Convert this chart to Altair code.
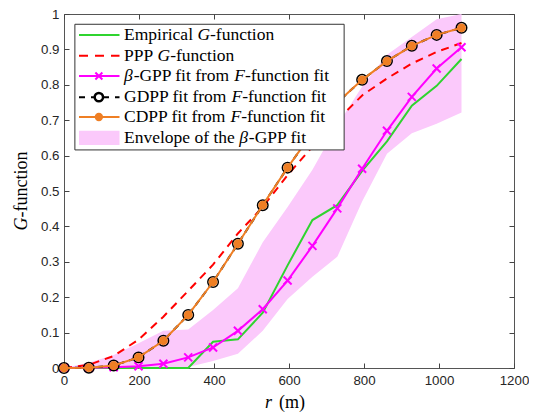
import altair as alt
import pandas as pd

# ---------------- data ----------------
r = [0, 66.25, 132.5, 198.75, 265, 331.25, 397.5, 463.75, 530, 596.25,
     662.5, 728.75, 795, 861.25, 927.5, 993.75, 1060]
g_emp = [0, 0, 0, 0, 0, 0, 0.074, 0.081, 0.156, 0.29, 0.418, 0.46, 0.557,
         0.64, 0.741, 0.797, 0.873]
g_ppp = [0, 0.009, 0.034, 0.080, 0.145, 0.218, 0.292, 0.38, 0.455, 0.545,
         0.625, 0.70, 0.77, 0.818, 0.86, 0.893, 0.918]
g_bgpp = [0, 0.0005, 0.002, 0.005, 0.012, 0.030, 0.058, 0.105, 0.166, 0.247,
          0.345, 0.451, 0.563, 0.670, 0.766, 0.846, 0.906]
g_gdpp = [0, 0.001, 0.007, 0.030, 0.077, 0.150, 0.243, 0.351, 0.460, 0.566,
          0.665, 0.750, 0.814, 0.867, 0.910, 0.941, 0.961]
g_cdpp = [0, 0.001, 0.007, 0.030, 0.077, 0.150, 0.243, 0.351, 0.460, 0.566,
          0.665, 0.750, 0.814, 0.867, 0.910, 0.941, 0.961]
env_lo = [0, 0, 0, 0, 0, 0.003, 0.02, 0.04, 0.105, 0.195, 0.258, 0.314,
          0.47, 0.605, 0.663, 0.69, 0.722]
env_hi = [0, 0.015, 0.037, 0.07, 0.105, 0.109, 0.164, 0.225, 0.355, 0.455,
          0.56, 0.685, 0.795, 0.885, 0.935, 0.985, 1.0]

x_ticks = [0, 200, 400, 600, 800, 1000, 1200]
y_ticks = [0, 0.1, 0.2, 0.3, 0.4, 0.5, 0.6, 0.7, 0.8, 0.9, 1.0]

# legend texts: (row, text, italic, offset in em)
legend_rows = [0, 0, 0, 1, 1, 1, 2, 2, 2, 2, 3, 3, 3, 4, 4, 4, 5, 5, 5]
legend_segs = ["Empirical ", "G", "-function",
               "PPP ", "G", "-function",
               "β", "-GPP fit from ", "F", "-function fit",
               "GDPP fit from ", "F", "-function fit",
               "CDPP fit from ", "F", "-function fit",
               "Envelope of the ", "β", "-GPP fit"]
legend_ital = [False, True, False,
               False, True, False,
               True, False, True, False,
               False, True, False,
               False, True, False,
               False, True, False]
legend_em = [0, 4.194, 4.916,
             0, 1.918, 2.640,
             0, 0.55, 6.30, 6.911,
             0, 6.139, 6.750,
             0, 6.084, 6.695,
             0, 6.582, 7.132]

x_title_segs = ["r", "(m)"]
y_title_segs = ["G", "-function"]

# ---------------- styles ----------------
C_GREEN = "#2fd42f"
C_RED = "#ff0000"
C_MAG = "#ff00ff"
C_BLACK = "#000000"
C_ORANGE = "#ef7f24"
C_PINK = "#fbc9fb"
SERIF = "Liberation Serif"
SANS = "Liberation Sans"
XMARK = "M-1,-1L1,1M-1,1L1,-1"
W, H = 450, 354
XMAX = 1200
PX_PER_X = W / XMAX      # pixels per r unit
PX_PER_Y = H / 1.0       # pixels per G unit
LEG_FS = 17.5
TITLE_FS = 18

xs = alt.Scale(domain=[0, XMAX], nice=False, zero=False)
ys = alt.Scale(domain=[0, 1], nice=False, zero=False)

df = pd.DataFrame({"r": r, "emp": g_emp, "ppp": g_ppp, "bgpp": g_bgpp,
                   "gdpp": g_gdpp, "cdpp": g_cdpp, "lo": env_lo, "hi": env_hi})


def X(f, axis=None):
    return alt.X(f, type="quantitative", scale=xs, axis=axis)


def Y(f, axis=None):
    return alt.Y(f, type="quantitative", scale=ys, axis=axis)


common_axis = dict(offset=-5, tickSize=5, domain=False, grid=False,
                   labelFont=SANS, labelFontSize=13.3, labelColor="#262626",
                   tickColor="#444444", tickWidth=1, labelFlush=False,
                   title=None)

ax_bottom = alt.Axis(orient="bottom", values=x_ticks, format="d",
                     labelPadding=5, **common_axis)
ax_left = alt.Axis(orient="left", values=y_ticks, format=".1~f",
                   labelPadding=5, **common_axis)
ax_top = alt.Axis(orient="top", values=x_ticks, labels=False, **common_axis)
ax_right = alt.Axis(orient="right", values=y_ticks, labels=False,
                    **common_axis)

base = alt.Chart(df)

envelope = base.mark_area(color=C_PINK, opacity=1).encode(
    x=X("r", ax_bottom), y=Y("lo", ax_left), y2="hi")
emp = base.mark_line(color=C_GREEN, strokeWidth=2).encode(
    x=X("r", ax_top), y=Y("emp", ax_right))
ppp = base.mark_line(color=C_RED, strokeWidth=2, strokeDash=[8, 6]).encode(
    x=X("r"), y=Y("ppp"))
bgpp = base.mark_line(color=C_MAG, strokeWidth=2).encode(
    x=X("r"), y=Y("bgpp"))
bgpp_pt = base.mark_point(shape=XMARK, size=64, filled=False, stroke=C_MAG,
                          strokeWidth=2, opacity=1).encode(
    x=X("r"), y=Y("bgpp"))
gdpp = base.mark_line(color=C_BLACK, strokeWidth=2, strokeDash=[6, 5]).encode(
    x=X("r"), y=Y("gdpp"))
gdpp_pt = base.mark_point(shape="circle", size=110, filled=False,
                          stroke=C_BLACK, strokeWidth=1.5, opacity=1).encode(
    x=X("r"), y=Y("gdpp"))
cdpp = base.mark_line(color=C_ORANGE, strokeWidth=2).encode(
    x=X("r"), y=Y("cdpp"))
cdpp_pt = base.mark_point(shape="circle", size=78, filled=True,
                          color=C_ORANGE, opacity=1).encode(
    x=X("r"), y=Y("cdpp"))

# ---------------- legend (placed in data units through the scales) ----------
leg_box = pd.DataFrame({"x": [29], "x2": [747], "y": [0.971], "y2": [0.616]})
row_y = [0.941, 0.882, 0.825, 0.765, 0.709, 0.650]
ls_x0, ls_x1, mk_x, tx_x = 40, 148, 93, 160

legend_box = alt.Chart(leg_box).mark_rect(
    fill="white", stroke="#333333", strokeWidth=1).encode(
    x=X("x"), x2="x2", y=Y("y"), y2="y2")


def leg_line(i, color, dash=None):
    d = pd.DataFrame({"x": [ls_x0], "x2": [ls_x1], "y": [row_y[i]]})
    kw = dict(color=color, strokeWidth=2)
    if dash:
        kw["strokeDash"] = dash
    return alt.Chart(d).mark_rule(**kw).encode(x=X("x"), x2="x2", y=Y("y"))


def leg_pt(i, **kw):
    d = pd.DataFrame({"x": [mk_x], "y": [row_y[i]]})
    return alt.Chart(d).mark_point(opacity=1, **kw).encode(x=X("x"), y=Y("y"))


leg_layers = [
    leg_line(0, C_GREEN),
    leg_line(1, C_RED, [9, 7]),
    leg_line(2, C_MAG),
    leg_pt(2, shape=XMARK, size=49, filled=False, stroke=C_MAG, strokeWidth=2),
    leg_line(3, C_BLACK, [6, 6]),
    leg_pt(3, shape="circle", size=70, filled=True, fill="white",
           stroke=C_BLACK, strokeWidth=2.5),
    leg_line(4, C_ORANGE),
    leg_pt(4, shape="circle", size=70, filled=True, color=C_ORANGE),
]
patch = pd.DataFrame({"x": [ls_x0], "x2": [ls_x1],
                      "y": [row_y[5] + 0.02], "y2": [row_y[5] - 0.02]})
leg_layers.append(alt.Chart(patch).mark_rect(fill=C_PINK).encode(
    x=X("x"), x2="x2", y=Y("y"), y2="y2"))

seg_df = pd.DataFrame({
    "x": [tx_x + em * LEG_FS / PX_PER_X for em in legend_em],
    "y": [row_y[i] for i in legend_rows],
    "t": legend_segs,
    "ital": legend_ital,
})
leg_text_up = alt.Chart(seg_df[~seg_df["ital"]]).mark_text(
    align="left", baseline="middle", font=SERIF, fontSize=LEG_FS,
    color="black").encode(x=X("x"), y=Y("y"), text="t:N")
leg_text_it = alt.Chart(seg_df[seg_df["ital"]]).mark_text(
    align="left", baseline="middle", font=SERIF, fontSize=LEG_FS,
    fontStyle="italic", color="black").encode(x=X("x"), y=Y("y"), text="t:N")

# ---------------- axis titles (mixed italic / upright) ----------------
xt_df = pd.DataFrame({"x": [(266 - 65) / PX_PER_X, (280 - 65) / PX_PER_X],
                      "y": [-35 / PX_PER_Y] * 2, "t": x_title_segs})
x_title_it = alt.Chart(xt_df.iloc[[0]]).mark_text(
    align="left", baseline="middle", font=SERIF, fontSize=TITLE_FS,
    fontStyle="italic", color="black").encode(x=X("x"), y=Y("y"), text="t:N")
x_title_up = alt.Chart(xt_df.iloc[[1]]).mark_text(
    align="left", baseline="middle", font=SERIF, fontSize=TITLE_FS,
    color="black").encode(x=X("x"), y=Y("y"), text="t:N")

g_w = 0.722 * TITLE_FS
yt_start = 0.5 - (0.722 + 3.666) * TITLE_FS / 2 / PX_PER_Y
yt_df = pd.DataFrame({"x": [-42 / PX_PER_X] * 2,
                      "y": [yt_start, yt_start + g_w / PX_PER_Y],
                      "t": y_title_segs})
y_title_it = alt.Chart(yt_df.iloc[[0]]).mark_text(
    align="left", baseline="middle", font=SERIF, fontSize=TITLE_FS,
    fontStyle="italic", angle=270, color="black").encode(
    x=X("x"), y=Y("y"), text="t:N")
y_title_up = alt.Chart(yt_df.iloc[[1]]).mark_text(
    align="left", baseline="middle", font=SERIF, fontSize=TITLE_FS,
    angle=270, color="black").encode(x=X("x"), y=Y("y"), text="t:N")

chart = alt.layer(
    envelope, emp, ppp, bgpp, bgpp_pt, gdpp, gdpp_pt, cdpp, cdpp_pt,
    legend_box, *leg_layers, leg_text_up, leg_text_it,
    x_title_it, x_title_up, y_title_it, y_title_up
).resolve_axis(x="independent", y="independent").properties(
    width=W, height=H,
    padding={"left": 56, "top": 6, "right": 15, "bottom": 45},
    autosize=alt.AutoSizeParams(type="none"),
).configure_view(stroke="#555555", strokeWidth=1)

chart.save("out.html", embed_options={"renderer": "svg", "actions": False})
